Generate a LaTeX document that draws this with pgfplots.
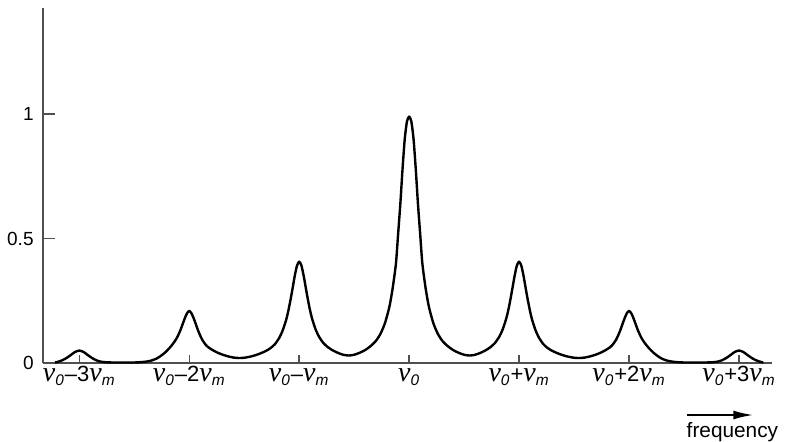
\documentclass[border=0pt]{standalone}
\usepackage{pgfplots}
\pgfplotsset{compat=1.18}
\usepackage{pgfplotstable}
\usetikzlibrary{arrows.meta,calc}
\usepackage{fontspec}
\setmainfont{Liberation Sans}
\newfontfamily\nufont{Liberation Serif}
\definecolor{axisgray}{HTML}{505050}
\newcommand{\NU}{{\fontsize{14}{14}\nufont\itshape ν}}
\newcommand{\nuz}{\NU\textsubscript{\textit{0}}}
\newcommand{\num}{\NU\textsubscript{\textit{m}}}
\pgfplotstableread{
x y
-3.22 0.002
-3.20 0.004
-3.16 0.010
-3.12 0.019
-3.08 0.031
-3.04 0.044
-3.00 0.050
-2.96 0.044
-2.92 0.031
-2.88 0.019
-2.84 0.010
-2.80 0.005
-2.76 0.003
-2.70 0.002
-2.60 0.002
-2.50 0.002
-2.45 0.003
-2.40 0.005
-2.35 0.009
-2.30 0.017
-2.26 0.028
-2.22 0.042
-2.18 0.060
-2.15 0.076
-2.12 0.095
-2.10 0.112
-2.08 0.132
-2.06 0.156
-2.04 0.180
-2.02 0.200
-2.00 0.209
-1.98 0.200
-1.96 0.180
-1.94 0.156
-1.92 0.131
-1.90 0.110
-1.88 0.092
-1.85 0.073
-1.82 0.061
-1.78 0.050
-1.74 0.041
-1.70 0.034
-1.65 0.027
-1.60 0.022
-1.55 0.020
-1.50 0.021
-1.45 0.025
-1.40 0.031
-1.35 0.039
-1.30 0.049
-1.26 0.060
-1.22 0.076
-1.18 0.102
-1.15 0.131
-1.12 0.171
-1.10 0.207
-1.08 0.251
-1.06 0.300
-1.04 0.351
-1.02 0.391
-1.00 0.407
-0.98 0.392
-0.96 0.352
-0.94 0.302
-0.92 0.253
-0.90 0.209
-0.88 0.174
-0.85 0.134
-0.82 0.106
-0.78 0.080
-0.74 0.064
-0.70 0.052
-0.65 0.041
-0.60 0.033
-0.55 0.030
-0.50 0.033
-0.45 0.041
-0.40 0.052
-0.35 0.068
-0.30 0.090
-0.26 0.118
-0.22 0.160
-0.18 0.225
-0.15 0.300
-0.12 0.400
-0.10 0.520
-0.08 0.640
-0.06 0.780
-0.04 0.900
-0.02 0.970
0.00 0.990
0.02 0.970
0.04 0.900
0.06 0.780
0.08 0.640
0.10 0.520
0.12 0.400
0.15 0.300
0.18 0.225
0.22 0.160
0.26 0.118
0.30 0.090
0.35 0.068
0.40 0.052
0.45 0.041
0.50 0.033
0.55 0.030
0.60 0.033
0.65 0.041
0.70 0.052
0.74 0.064
0.78 0.080
0.82 0.106
0.85 0.134
0.88 0.174
0.90 0.209
0.92 0.253
0.94 0.302
0.96 0.352
0.98 0.392
1.00 0.407
1.02 0.391
1.04 0.351
1.06 0.300
1.08 0.251
1.10 0.207
1.12 0.171
1.15 0.131
1.18 0.102
1.22 0.076
1.26 0.060
1.30 0.049
1.35 0.039
1.40 0.031
1.45 0.025
1.50 0.021
1.55 0.020
1.60 0.022
1.65 0.027
1.70 0.034
1.74 0.041
1.78 0.050
1.82 0.061
1.85 0.073
1.88 0.092
1.90 0.110
1.92 0.131
1.94 0.156
1.96 0.180
1.98 0.200
2.00 0.209
2.02 0.200
2.04 0.180
2.06 0.156
2.08 0.132
2.10 0.112
2.12 0.095
2.15 0.076
2.18 0.060
2.22 0.042
2.26 0.028
2.30 0.017
2.35 0.009
2.40 0.005
2.45 0.003
2.50 0.002
2.60 0.002
2.70 0.002
2.76 0.003
2.80 0.005
2.84 0.010
2.88 0.019
2.92 0.031
2.96 0.044
3.00 0.050
3.04 0.044
3.08 0.031
3.12 0.019
3.16 0.010
3.20 0.004
3.22 0.002
}\spectrum
\begin{document}
\begin{tikzpicture}
\begin{axis}[
  scale only axis, width=364.5pt, height=177.5pt,
  xmin=-3.33, xmax=3.3, ymin=0, ymax=1.426,
  axis x line=bottom, axis y line=left,
  axis line style={-, draw=axisgray, line width=1pt},
  tick align=inside,
  major tick length=6pt,
  xtick style={draw=axisgray, line width=0.7pt, /pgfplots/major tick length=4pt},
  ytick style={draw=axisgray, line width=0.7pt},
  xtick={-3,-2,-1,0,1,2,3},
  xticklabels={\nuz–3\num, \nuz–2\num, \nuz–\num, \nuz, \nuz+\num, \nuz+2\num, \nuz+3\num},
  ytick={0,0.5,1}, yticklabels={0,0.5,1},
  xticklabel style={font=\fontsize{11}{12}\selectfont, anchor=base, yshift=-9.5pt, inner sep=0pt},
  yticklabel style={font=\fontsize{9.5}{10}\selectfont, anchor=east, inner sep=0pt, xshift=-4.5pt},
  clip=false,
]
\addplot[black, line width=1.2pt, smooth, tension=0.4, line join=round] table[x=x, y=y] {\spectrum};
\coordinate (SW) at (rel axis cs:0,0);
\coordinate (NE) at (rel axis cs:1,1);
\draw[black, line width=1pt, -{Latex[length=10pt,width=4.5pt]}] (axis cs:2.53,-0.209) -- (axis cs:3.13,-0.209);
\node[anchor=base, inner sep=0pt, font=\fontsize{10.4}{11}\selectfont] at (axis cs:2.94,-0.301) {frequency};
\end{axis}
\pgfresetboundingbox
\path[use as bounding box] ($(SW)+(-21.5pt,-39.5pt)$) rectangle ($(NE)+(8.5pt,4pt)$);
\end{tikzpicture}
\end{document}
